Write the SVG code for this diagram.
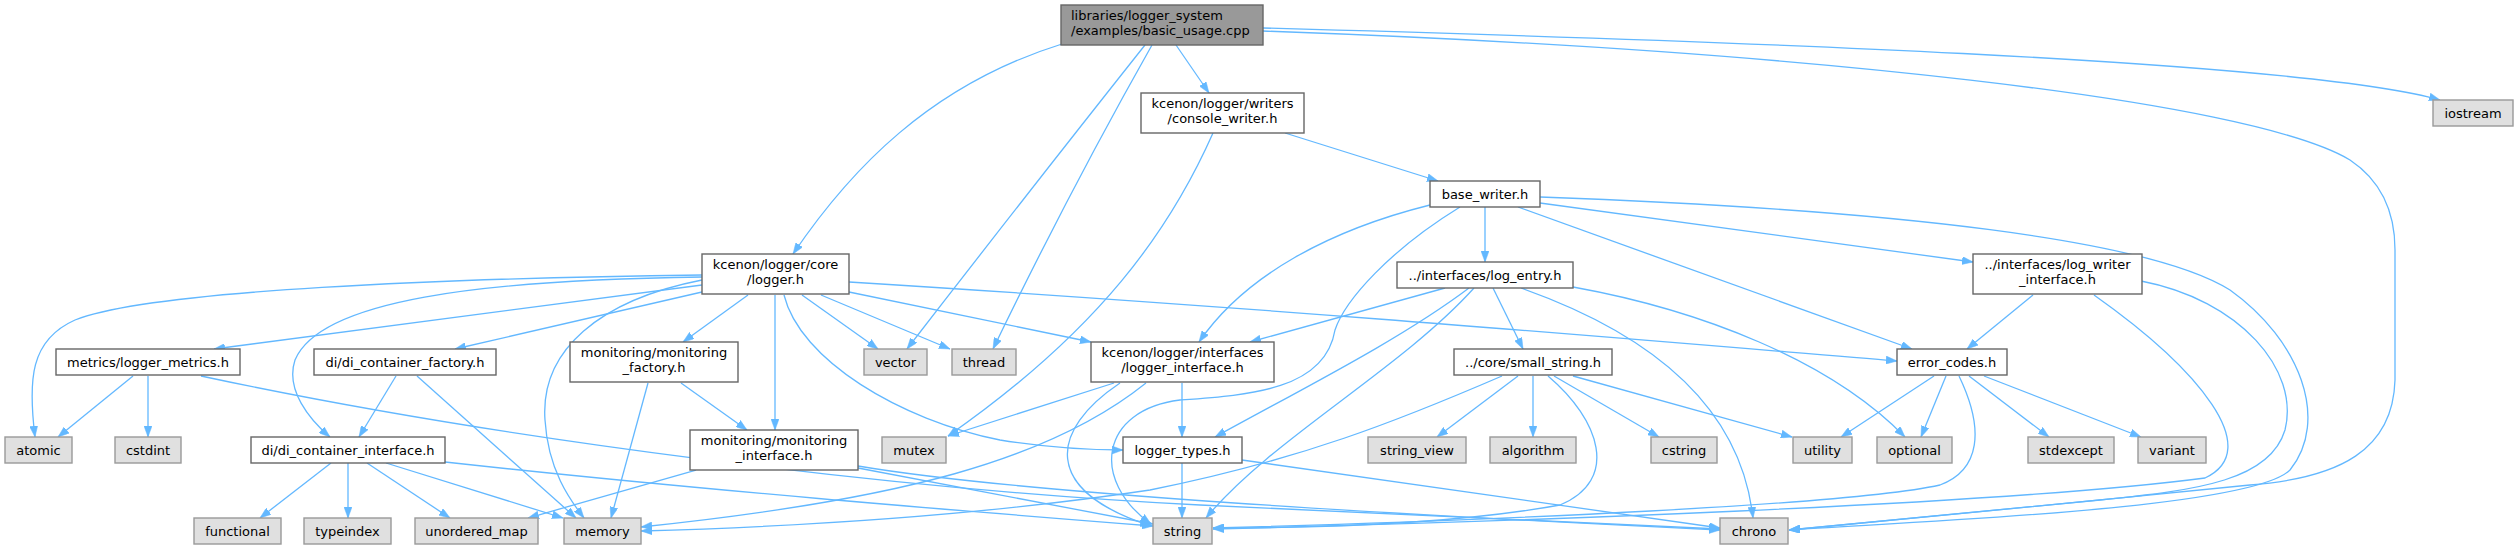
<svg xmlns="http://www.w3.org/2000/svg" width="2519" height="549" viewBox="0 0 2519 549">
<style>
.n rect{fill:#ffffff;stroke:#666666;stroke-width:1.4}
.r rect{fill:#999999;stroke:#666666;stroke-width:1.4}
.x rect{fill:#e0e0e0;stroke:#999999;stroke-width:1.4}
text{font-family:"DejaVu Sans","Liberation Sans",sans-serif;font-size:13px;fill:#000000;text-anchor:middle}
.l text{text-anchor:start}
#edges path{fill:none;stroke:#63b8ff;stroke-width:1.3;marker-end:url(#ah)}
</style>
<defs>
<marker id="ah" markerUnits="userSpaceOnUse" markerWidth="11" markerHeight="8" viewBox="0 0 11 8" refX="11" refY="4" orient="auto">
<path d="M0,0 L11,4 L0,8 z" fill="#63b8ff" stroke="#63b8ff" stroke-width="0.5"/>
</marker>
</defs>
<rect width="2519" height="549" fill="#ffffff"/>
<g id="edges">
<path d="M1062,44 C930,85 850,170 793,254"/>
<path d="M1145,45 Q1030,190 907,349"/>
<path d="M1152,45 Q1070,190 993,349"/>
<path d="M1176,45 L1209,93"/>
<path d="M1263,28 C1700,40 2300,60 2440,100"/>
<path d="M1263,31 C1800,50 2250,100 2350,160 Q2395,190 2395,250 L2395,380 C2393,450 2340,478 2250,485 C2100,500 1900,520 1789,530"/>
<path d="M1285,133 L1438,181"/>
<path d="M1213,133 C1170,230 1100,330 948,436"/>
<path d="M1485,207 L1485,262"/>
<path d="M1430,205 C1330,230 1245,275 1199,342"/>
<path d="M1460,207 C1390,250 1345,300 1335,330 C1325,390 1250,395 1180,400 C1100,410 1090,480 1151,524"/>
<path d="M1518,207 L1912,349"/>
<path d="M1540,203 L1973,262"/>
<path d="M1540,197 C1900,210 2150,240 2230,290 C2300,340 2330,420 2290,470 C2250,510 1900,522 1789,530"/>
<path d="M2033,295 L1967,349"/>
<path d="M2094,295 C2200,370 2265,450 2205,478 C2000,505 1500,522 1213,529"/>
<path d="M2141,281 C2240,300 2300,370 2285,430 C2270,480 2200,490 2100,500 C1950,515 1850,525 1789,530"/>
<path d="M1934,376 L1841,437"/>
<path d="M1946,376 L1921,437"/>
<path d="M1959,376 C1985,430 1980,470 1940,485 C1850,505 1500,520 1213,528"/>
<path d="M1969,376 L2049,437"/>
<path d="M1984,376 L2141,437"/>
<path d="M1445,288 L1250,342"/>
<path d="M1469,288 C1400,340 1300,390 1215,437"/>
<path d="M1474,288 C1400,370 1270,440 1206,518"/>
<path d="M1493,288 L1523,349"/>
<path d="M1521,288 C1640,330 1740,400 1753,518"/>
<path d="M1573,287 C1700,310 1830,360 1905,437"/>
<path d="M1502,376 C1400,420 1300,460 1150,490 C950,520 750,528 641,531"/>
<path d="M1518,376 L1437,437"/>
<path d="M1533,376 L1533,437"/>
<path d="M1548,376 C1600,420 1620,480 1560,505 C1450,525 1300,528 1213,528"/>
<path d="M1554,376 L1659,437"/>
<path d="M1573,376 L1792,437"/>
<path d="M1114,383 L948,436"/>
<path d="M1146,383 C1050,460 900,500 641,527"/>
<path d="M1120,383 C1050,430 1040,490 1151,526"/>
<path d="M1182,383 L1182,437"/>
<path d="M702,275 C450,278 150,290 75,320 C30,340 28,380 35,437"/>
<path d="M702,285 L214,349"/>
<path d="M702,292 L455,349"/>
<path d="M702,277 C480,280 320,300 295,360 C285,390 310,420 330,437"/>
<path d="M702,280 C600,300 540,350 545,420 C548,470 570,500 584,518"/>
<path d="M748,295 L683,342"/>
<path d="M775,295 L775,430"/>
<path d="M784,295 C800,360 900,420 1000,440 C1050,448 1090,450 1123,450"/>
<path d="M802,295 L878,349"/>
<path d="M821,295 L950,349"/>
<path d="M849,292 L1091,342"/>
<path d="M849,282 C1300,310 1700,345 1897,361"/>
<path d="M133,376 L58,437"/>
<path d="M148,376 L148,437"/>
<path d="M201,376 C500,440 900,490 1200,505 C1450,515 1650,525 1720,529"/>
<path d="M858,466 C1000,490 1300,510 1720,530"/>
<path d="M858,468 C950,485 1050,505 1153,524"/>
<path d="M696,470 L528,518"/>
<path d="M445,462 C700,490 950,510 1153,526"/>
<path d="M331,463 L260,518"/>
<path d="M348,463 L348,518"/>
<path d="M367,463 L450,518"/>
<path d="M386,463 L563,518"/>
<path d="M396,376 L359,437"/>
<path d="M417,376 L576,518"/>
<path d="M648,383 L611,518"/>
<path d="M681,383 L747,430"/>
<path d="M1182,463 L1182,518"/>
<path d="M1242,460 L1720,528"/>
</g>
<g id="root" class="r l"><rect x="1061" y="5" width="202" height="40"/><text x="1071" y="20">libraries/logger_system</text><text x="1071" y="35">/examples/basic_usage.cpp</text></g>
<g id="console_writer" class="n"><rect x="1141" y="93" width="163" height="40"/><text x="1222.5" y="108">kcenon/logger/writers</text><text x="1222.5" y="123">/console_writer.h</text></g>
<g id="base_writer" class="n"><rect x="1430" y="181" width="110" height="26"/><text x="1485" y="198.5">base_writer.h</text></g>
<g id="log_entry" class="n"><rect x="1397" y="262" width="176" height="26"/><text x="1485" y="279.5">../interfaces/log_entry.h</text></g>
<g id="log_writer_interface" class="n"><rect x="1973" y="254" width="169" height="40"/><text x="2057.5" y="269">../interfaces/log_writer</text><text x="2057.5" y="284">_interface.h</text></g>
<g id="iostream" class="x"><rect x="2433" y="100" width="80" height="26"/><text x="2473" y="117.5">iostream</text></g>
<g id="logger" class="n"><rect x="702" y="254" width="147" height="40"/><text x="775.5" y="269">kcenon/logger/core</text><text x="775.5" y="284">/logger.h</text></g>
<g id="metrics" class="n"><rect x="56" y="349" width="184" height="26"/><text x="148" y="366.5">metrics/logger_metrics.h</text></g>
<g id="di_factory" class="n"><rect x="314" y="349" width="182" height="26"/><text x="405" y="366.5">di/di_container_factory.h</text></g>
<g id="monitoring_factory" class="n"><rect x="570" y="342" width="168" height="40"/><text x="654" y="357">monitoring/monitoring</text><text x="654" y="372">_factory.h</text></g>
<g id="vector" class="x"><rect x="864" y="349" width="63" height="26"/><text x="895.5" y="366.5">vector</text></g>
<g id="thread" class="x"><rect x="952" y="349" width="64" height="26"/><text x="984" y="366.5">thread</text></g>
<g id="logger_interface" class="n"><rect x="1091" y="342" width="183" height="40"/><text x="1182.5" y="357">kcenon/logger/interfaces</text><text x="1182.5" y="372">/logger_interface.h</text></g>
<g id="small_string" class="n"><rect x="1454" y="349" width="158" height="26"/><text x="1533" y="366.5">../core/small_string.h</text></g>
<g id="error_codes" class="n"><rect x="1897" y="349" width="110" height="26"/><text x="1952" y="366.5">error_codes.h</text></g>
<g id="atomic" class="x"><rect x="5" y="437" width="67" height="26"/><text x="38.5" y="454.5">atomic</text></g>
<g id="cstdint" class="x"><rect x="115" y="437" width="66" height="26"/><text x="148" y="454.5">cstdint</text></g>
<g id="di_interface" class="n"><rect x="251" y="437" width="194" height="26"/><text x="348" y="454.5">di/di_container_interface.h</text></g>
<g id="monitoring_interface" class="n"><rect x="690" y="430" width="168" height="40"/><text x="774" y="445">monitoring/monitoring</text><text x="774" y="460">_interface.h</text></g>
<g id="mutex" class="x"><rect x="882" y="437" width="64" height="26"/><text x="914" y="454.5">mutex</text></g>
<g id="logger_types" class="n"><rect x="1123" y="437" width="119" height="26"/><text x="1182.5" y="454.5">logger_types.h</text></g>
<g id="string_view" class="x"><rect x="1368" y="437" width="98" height="26"/><text x="1417" y="454.5">string_view</text></g>
<g id="algorithm" class="x"><rect x="1490" y="437" width="86" height="26"/><text x="1533" y="454.5">algorithm</text></g>
<g id="cstring" class="x"><rect x="1651" y="437" width="66" height="26"/><text x="1684" y="454.5">cstring</text></g>
<g id="utility" class="x"><rect x="1793" y="437" width="59" height="26"/><text x="1822.5" y="454.5">utility</text></g>
<g id="optional" class="x"><rect x="1877" y="437" width="75" height="26"/><text x="1914.5" y="454.5">optional</text></g>
<g id="stdexcept" class="x"><rect x="2028" y="437" width="86" height="26"/><text x="2071" y="454.5">stdexcept</text></g>
<g id="variant" class="x"><rect x="2138" y="437" width="68" height="26"/><text x="2172" y="454.5">variant</text></g>
<g id="functional" class="x"><rect x="194" y="518" width="87" height="26"/><text x="237.5" y="535.5">functional</text></g>
<g id="typeindex" class="x"><rect x="304" y="518" width="87" height="26"/><text x="347.5" y="535.5">typeindex</text></g>
<g id="unordered_map" class="x"><rect x="415" y="518" width="123" height="26"/><text x="476.5" y="535.5">unordered_map</text></g>
<g id="memory" class="x"><rect x="564" y="518" width="77" height="26"/><text x="602.5" y="535.5">memory</text></g>
<g id="string" class="x"><rect x="1153" y="518" width="59" height="26"/><text x="1182.5" y="535.5">string</text></g>
<g id="chrono" class="x"><rect x="1720" y="518" width="68" height="26"/><text x="1754" y="535.5">chrono</text></g>
</svg>
